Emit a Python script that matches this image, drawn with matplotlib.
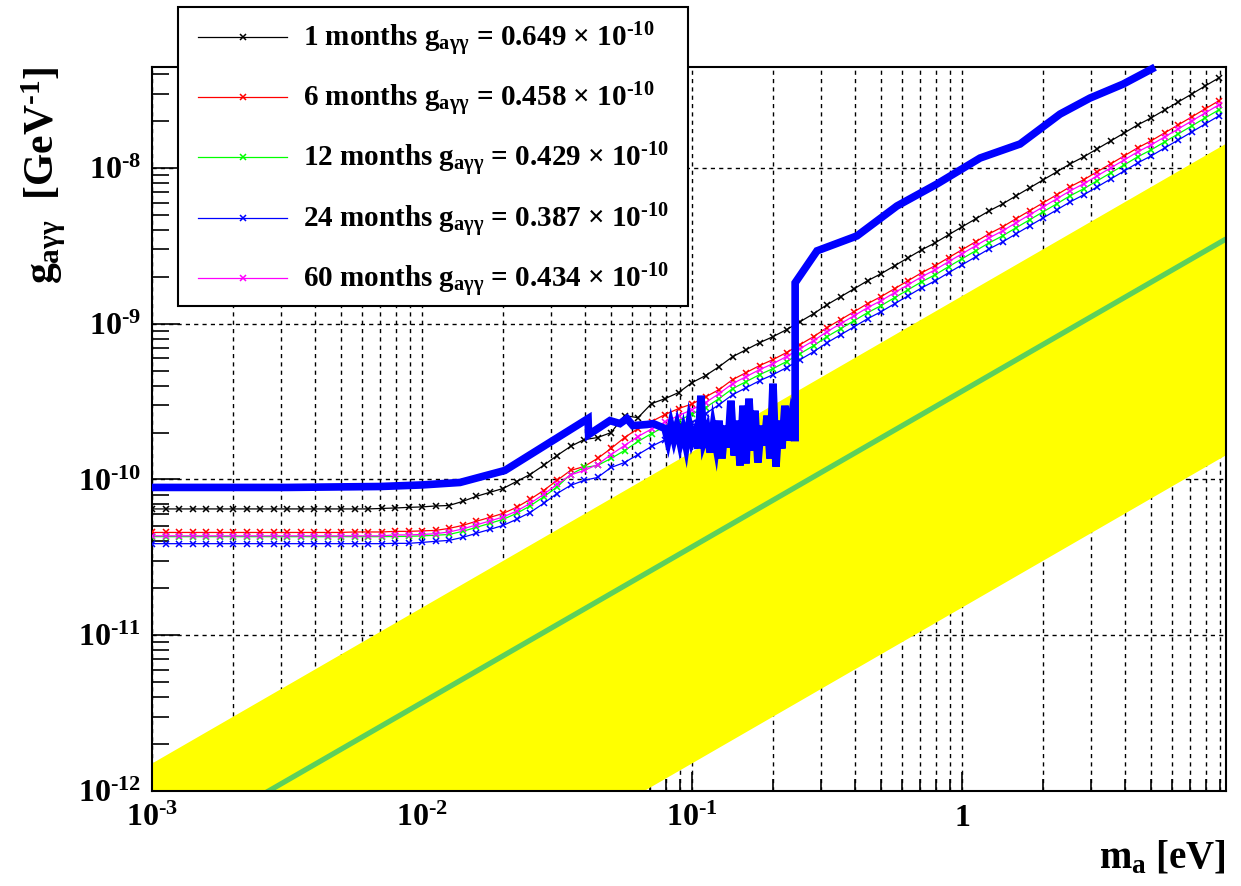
import numpy as np
import matplotlib
matplotlib.use('Agg')
import matplotlib.pyplot as plt
from matplotlib.ticker import FixedLocator, FixedFormatter, LogLocator, NullFormatter
from matplotlib.lines import Line2D
from matplotlib.patches import Rectangle

# ROOT-like bold Times look
plt.rcParams['font.family'] = 'Liberation Serif'
plt.rcParams['font.weight'] = 'bold'
plt.rcParams['axes.labelweight'] = 'bold'
plt.rcParams['mathtext.fontset'] = 'custom'
plt.rcParams['mathtext.rm'] = 'Liberation Serif:bold'
plt.rcParams['mathtext.it'] = 'Liberation Serif:bold'
plt.rcParams['mathtext.bf'] = 'Liberation Serif:bold'

# ---------------- data (log10 values) ----------------
months = [1, 6, 12, 24, 60]
g_best = [0.649, 0.458, 0.429, 0.387, 0.434]   # x 1e-10 GeV^-1
colors = ['black', '#ff0000', '#00ff00', '#0000ff', '#ff00ff']

# scan grid, log10(m_a / eV)
lg_mass = [-3.00, -2.95, -2.90, -2.85, -2.80, -2.75, -2.70, -2.65, -2.60, -2.55,
           -2.50, -2.45, -2.40, -2.35, -2.30, -2.25, -2.20, -2.15, -2.10, -2.05,
           -2.00, -1.95, -1.90, -1.85, -1.80, -1.75, -1.70, -1.65, -1.60, -1.55,
           -1.50, -1.45, -1.40, -1.35, -1.30, -1.25, -1.20, -1.15, -1.10, -1.05,
           -1.00, -0.95, -0.90, -0.85, -0.80, -0.75, -0.70, -0.65, -0.60, -0.55,
           -0.50, -0.45, -0.40, -0.35, -0.30, -0.25, -0.20, -0.15, -0.10, -0.05,
           0.00, 0.05, 0.10, 0.15, 0.20, 0.25, 0.30, 0.35, 0.40, 0.45,
           0.50, 0.55, 0.60, 0.65, 0.70, 0.75, 0.80, 0.85, 0.90, 0.95]

# log10(g / GeV^-1) for each exposure
lg_g_1m = [-10.189] * 17 + [
    -10.186, -10.183, -10.179, -10.176, -10.170, -10.167, -10.141, -10.109, -10.083, -10.058,
    -10.013, -9.968, -9.910, -9.846, -9.788, -9.744, -9.731, -9.699, -9.590, -9.603,
    -9.513, -9.481, -9.442, -9.378,
    -9.333, -9.276, -9.212, -9.167, -9.122, -9.083, -9.038, -8.987, -8.936, -8.878,
    -8.827, -8.776, -8.724, -8.679, -8.628, -8.577, -8.526, -8.481, -8.429, -8.378,
    -8.327, -8.276, -8.231, -8.179, -8.128, -8.077, -8.026, -7.974, -7.929, -7.878,
    -7.827, -7.776, -7.724, -7.679, -7.628, -7.577, -7.526, -7.474, -7.423]

lg_g_6m = [-10.340] * 15 + [-10.337] * 3 + [
    -10.333, -10.333, -10.330, -10.327, -10.314, -10.295, -10.269, -10.244, -10.218, -10.179,
    -10.128, -10.071, -10.006, -9.942, -9.917, -9.865, -9.801, -9.731, -9.673, -9.628,
    -9.583, -9.545, -9.515,
    -9.470, -9.423, -9.359, -9.314, -9.269, -9.230, -9.185, -9.134, -9.083, -9.025,
    -8.974, -8.923, -8.871, -8.826, -8.775, -8.724, -8.673, -8.628, -8.576, -8.525,
    -8.474, -8.423, -8.378, -8.326, -8.275, -8.224, -8.173, -8.121, -8.076, -8.025,
    -7.974, -7.923, -7.871, -7.826, -7.775, -7.724, -7.673, -7.621, -7.570]

lg_g_12m = [-10.367] * 18 + [
    -10.366, -10.365, -10.362, -10.358, -10.353, -10.333, -10.308, -10.282, -10.256, -10.218,
    -10.170, -10.112, -10.048, -9.968, -9.923, -9.910, -9.865, -9.814, -9.756, -9.705,
    -9.660, -9.622, -9.580,
    -9.538, -9.481, -9.417, -9.372, -9.327, -9.288, -9.243, -9.192, -9.141, -9.083,
    -9.032, -8.981, -8.929, -8.884, -8.833, -8.782, -8.731, -8.686, -8.634, -8.583,
    -8.532, -8.481, -8.436, -8.384, -8.333, -8.282, -8.231, -8.179, -8.134, -8.083,
    -8.032, -7.981, -7.929, -7.884, -7.833, -7.782, -7.731, -7.679, -7.628]

lg_g_24m = [-10.412] * 18 + [
    -10.410, -10.410, -10.404, -10.397, -10.391, -10.372, -10.346, -10.321, -10.295, -10.256,
    -10.212, -10.154, -10.090, -10.038, -10.006, -9.987, -9.923, -9.891, -9.840, -9.788,
    -9.744, -9.699, -9.635,
    -9.577, -9.520, -9.456, -9.411, -9.366, -9.327, -9.282, -9.231, -9.180, -9.122,
    -9.071, -9.020, -8.968, -8.923, -8.872, -8.821, -8.770, -8.725, -8.673, -8.622,
    -8.571, -8.520, -8.475, -8.423, -8.372, -8.321, -8.270, -8.218, -8.173, -8.122,
    -8.071, -8.020, -7.968, -7.923, -7.872, -7.821, -7.770, -7.718, -7.667]

lg_g_60m = [-10.362] * 18 + [
    -10.356, -10.356, -10.353, -10.348, -10.337, -10.318, -10.292, -10.267, -10.241, -10.203,
    -10.154, -10.096, -10.032, -9.971, -9.942, -9.904, -9.840, -9.782, -9.724, -9.676,
    -9.631, -9.590, -9.551,
    -9.506, -9.449, -9.385, -9.340, -9.295, -9.256, -9.211, -9.160, -9.109, -9.051,
    -9.000, -8.949, -8.897, -8.852, -8.801, -8.750, -8.699, -8.654, -8.602, -8.551,
    -8.500, -8.449, -8.404, -8.352, -8.301, -8.250, -8.199, -8.147, -8.102, -8.051,
    -8.000, -7.949, -7.897, -7.852, -7.801, -7.750, -7.699, -7.647, -7.596]

sens_curves = [lg_g_1m, lg_g_6m, lg_g_12m, lg_g_24m, lg_g_60m]

# existing limit (thick blue), in three pieces
lim_lm_low = [-3.000, -2.500, -2.156, -2.000, -1.859, -1.693, -1.385, -1.383, -1.304, -1.267,
              -1.241, -1.219, -1.167, -1.144]
lim_lg_low = [-10.051, -10.051, -10.045, -10.035, -10.019, -9.942, -9.609, -9.712, -9.622, -9.641,
              -9.609, -9.654, -9.647, -9.641]
lim_lm_noise = [-1.100, -1.089, -1.078, -1.067, -1.056, -1.044, -1.033, -1.022, -1.011, -1.000,
                -0.989, -0.978, -0.967, -0.956, -0.944, -0.933, -0.922, -0.911, -0.900, -0.889,
                -0.878, -0.867, -0.856, -0.844, -0.833, -0.822, -0.811, -0.800, -0.789, -0.778,
                -0.767, -0.756, -0.744, -0.733, -0.722, -0.711, -0.700, -0.689, -0.678, -0.667,
                -0.656, -0.644, -0.633, -0.622]
lim_lg_noise = [-9.673, -9.750, -9.654, -9.737, -9.660, -9.763, -9.686, -9.782, -9.647, -9.750,
                -9.699, -9.801, -9.462, -9.750, -9.686, -9.827, -9.673, -9.782, -9.622, -9.865,
                -9.654, -9.795, -9.494, -9.846, -9.622, -9.910, -9.526, -9.897, -9.481, -9.814,
                -9.558, -9.891, -9.654, -9.782, -9.590, -9.865, -9.385, -9.917, -9.622, -9.801,
                -9.526, -9.750, -9.622, -9.731]
lim_lm_high = [-0.618, -0.618, -0.537, -0.389, -0.241, -0.093, 0.067, 0.215, 0.363, 0.474,
               0.596, 0.715]
lim_lg_high = [-9.731, -8.737, -8.532, -8.436, -8.244, -8.103, -7.936, -7.846, -7.654, -7.551,
               -7.462, -7.353]

# theory band (yellow) and central line (green)
band_mass = [1.0e-3, 9.5]
band_low = [1.5e-14, 1.43e-10]
band_high = [1.5e-12, 1.43e-8]
model_g = [3.7e-13, 3.5e-9]

# ---------------- figure ----------------
fig = plt.figure(figsize=(12.41, 8.86), dpi=100)
ax = fig.add_axes([152 / 1241, 95 / 886, 1074 / 1241, 724 / 886])
ax.set_xscale('log')
ax.set_yscale('log')
ax.set_xlim(1e-3, 9.5)
ax.set_ylim(1e-12, 4.45e-8)
ax.set_axisbelow(True)

ax.fill_between(band_mass, band_low, band_high, color='#ffff00', lw=0, zorder=1)
ax.plot(band_mass, model_g, color='#5cd05c', lw=3.8, zorder=2, solid_capstyle='butt')

mass = 10 ** np.array(lg_mass)
for lg, c in zip(sens_curves, colors):
    ax.plot(mass, 10 ** np.array(lg), color=c, lw=0.9, marker='x', ms=5, mew=1.1, zorder=3)

lim_lm = np.array(lim_lm_low + lim_lm_noise + lim_lm_high)
lim_lg = np.array(lim_lg_low + lim_lg_noise + lim_lg_high)
ax.plot(10 ** lim_lm, 10 ** lim_lg, color='#0000ff', lw=5.5, zorder=4, clip_on=False,
        solid_joinstyle='miter', solid_capstyle='butt')

# axes, ticks, grid
for s in ax.spines.values():
    s.set_linewidth(1.5)

ax.xaxis.set_major_locator(FixedLocator([1e-3, 1e-2, 1e-1, 1]))
ax.xaxis.set_major_formatter(FixedFormatter([r'$10^{\text{-}3}$', r'$10^{\text{-}2}$',
                                             r'$10^{\text{-}1}$', '1']))
ax.xaxis.set_minor_locator(LogLocator(base=10, subs=np.arange(2, 10)))
ax.xaxis.set_minor_formatter(NullFormatter())
ax.yaxis.set_major_locator(FixedLocator([1e-12, 1e-11, 1e-10, 1e-9, 1e-8]))
ax.yaxis.set_major_formatter(FixedFormatter([r'$10^{\text{-}12}$', r'$10^{\text{-}11}$',
                                             r'$10^{\text{-}10}$', r'$10^{\text{-}9}$',
                                             r'$10^{\text{-}8}$']))
ax.yaxis.set_minor_locator(LogLocator(base=10, subs=np.arange(2, 10)))
ax.yaxis.set_minor_formatter(NullFormatter())

ax.tick_params(axis='x', which='major', direction='in', length=14, width=1.2, labelsize=23, pad=9)
ax.tick_params(axis='x', which='minor', direction='in', length=8.5, width=1.2)
ax.tick_params(axis='y', which='major', direction='in', length=20, width=1.2, labelsize=23, pad=8)
ax.tick_params(axis='y', which='minor', direction='in', length=12, width=1.2)

ax.grid(which='both', axis='x', color='black', lw=1.0, ls=(0, (3, 3)))
ax.grid(which='major', axis='y', color='black', lw=1.0, ls=(0, (3, 3)))

ax.set_xlabel(r'$m_{a}$ [eV]', fontsize=28, loc='right')
ax.xaxis.set_label_coords(1.0, -0.068)
ax.set_ylabel(r'$g_{a\gamma\gamma}$  [GeV$^{\text{-}1}$]', fontsize=30, loc='top')
ax.yaxis.set_label_coords(-0.078, 1.0)

# legend: box drawn separately so its size matches the original
box = Rectangle((178 / 1241, 1 - 306 / 886), 510 / 1241, 299 / 886, transform=fig.transFigure,
                facecolor='white', edgecolor='black', lw=1.5, clip_on=False, zorder=9)
ax.add_patch(box)

handles = [Line2D([], [], color=c, lw=0.9, marker='x', ms=5, mew=1.1) for c in colors]
labels = [r'%d months $g_{a\gamma\gamma}$ = %.3f $\times$ $10^{\text{-}10}$' % (m, g)
          for m, g in zip(months, g_best)]
leg = ax.legend(handles, labels, loc='upper left', bbox_to_anchor=(185 / 1241, 1 - 7 / 886),
                bbox_transform=fig.transFigure, fontsize=21, frameon=False,
                borderaxespad=0, borderpad=0.45,
                handlelength=3.05, handletextpad=0.55, labelspacing=0.75, markerscale=1)
leg.set_zorder(10)

fig.savefig('out.png', dpi=100)
